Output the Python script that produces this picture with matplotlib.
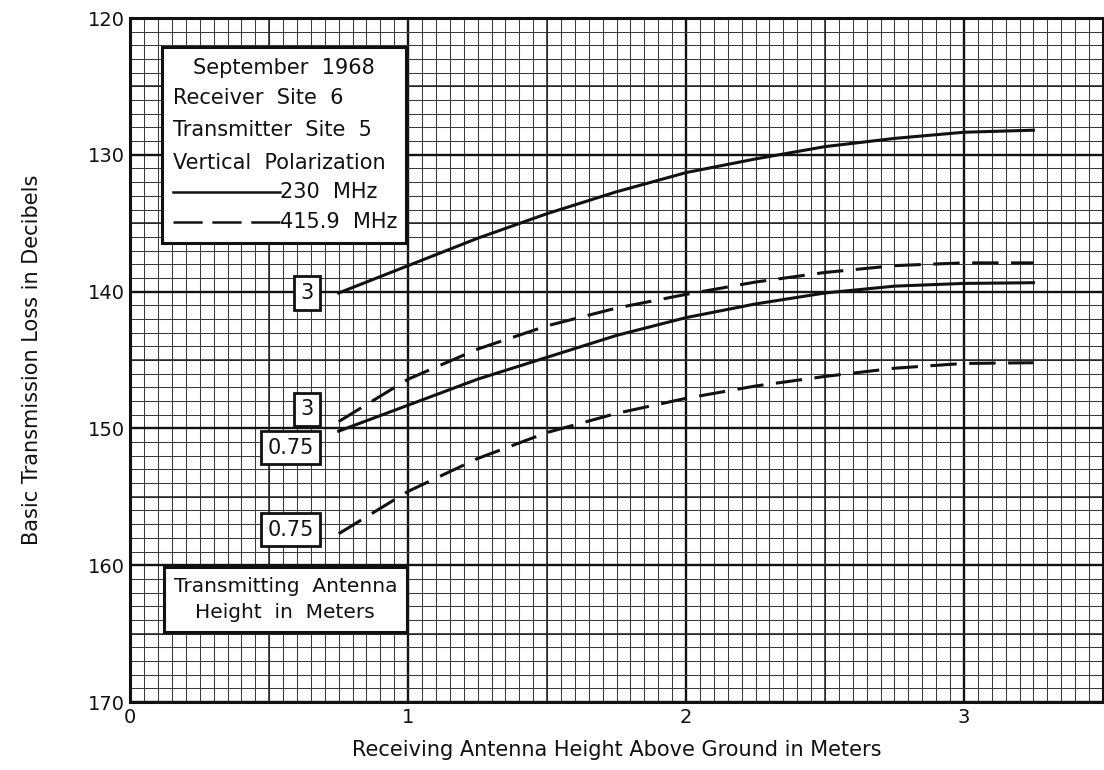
import numpy as np
import matplotlib
matplotlib.use("Agg")
import matplotlib.pyplot as plt
from matplotlib.patches import Rectangle

plt.rcParams['font.family'] = ['DejaVu Sans']
plt.rcParams['lines.scale_dashes'] = False

# Receiving antenna height (m)
height = [0.75, 1.0, 1.25, 1.5, 1.75, 2.0, 2.25, 2.5, 2.75, 3.0, 3.25]

# Basic transmission loss (dB)
loss_230_3 = [140.1, 138.1, 136.1, 134.3, 132.7, 131.3, 130.3, 129.4, 128.8, 128.35, 128.2]
loss_416_3 = [149.5, 146.4, 144.2, 142.5, 141.2, 140.2, 139.3, 138.6, 138.1, 137.9, 137.9]
loss_230_075 = [150.2, 148.3, 146.4, 144.8, 143.2, 141.9, 140.9, 140.1, 139.6, 139.4, 139.35]
loss_416_075 = [157.7, 154.6, 152.2, 150.3, 148.9, 147.8, 146.9, 146.2, 145.6, 145.25, 145.2]

curve_labels = ["3", "3", "0.75", "0.75"]
x_ticks = [0, 1, 2, 3]
y_ticks = [120, 130, 140, 150, 160, 170]

ink = "#111111"
dash = (0, (19, 9))

fig = plt.figure(figsize=(11.04, 7.70), dpi=100)
ax = fig.add_axes([0.118, 0.0883, 0.881, 0.8883])

ax.set_xlim(0, 3.5)
ax.set_ylim(170, 120)

# graph-paper grid
ax.set_xticks(x_ticks)
ax.set_yticks(y_ticks)
ax.set_xticks(np.arange(0, 3.51, 0.05), minor=True)
ax.set_yticks(np.arange(120, 171, 1), minor=True)
ax.grid(which='minor', color="#3a3a3a", lw=0.75)
ax.grid(which='major', color=ink, lw=1.7)
for xv in np.arange(0.5, 3.5, 1.0):
    ax.axvline(xv, color="#222222", lw=1.1, zorder=0.6)
for yv in np.arange(125, 170, 10):
    ax.axhline(yv, color="#222222", lw=1.1, zorder=0.6)
ax.set_axisbelow(True)
for s in ax.spines.values():
    s.set_linewidth(2.2)
    s.set_color(ink)

ax.tick_params(which='both', length=0, labelsize=14, pad=4, colors=ink)
ax.set_xlabel("Receiving Antenna Height Above Ground in Meters", fontsize=15, labelpad=10, color=ink)
ax.set_ylabel("Basic Transmission Loss in Decibels", fontsize=15, labelpad=33, color=ink)

# curves
ax.plot(height, loss_230_3, color=ink, lw=2.2, zorder=3)
ax.plot(height, loss_416_3, color=ink, lw=2.2, ls=dash, zorder=3)
ax.plot(height, loss_230_075, color=ink, lw=2.2, zorder=3)
ax.plot(height, loss_416_075, color=ink, lw=2.2, ls=dash, zorder=3)

# transmitting antenna height tags at curve starts
starts = [loss_230_3[0], loss_416_3[0] - 0.9, loss_230_075[0] + 1.2, loss_416_075[0] - 0.3]
for lab, yv in zip(curve_labels, starts):
    ax.text(height[0] - 0.09, yv, lab, ha='right', va='center', fontsize=15, color=ink, zorder=5,
            bbox=dict(boxstyle='square,pad=0.32', fc='white', ec=ink, lw=2))

# info box
ax.add_patch(Rectangle((0.115, 122.1), 0.878, 14.35, fc='white', ec=ink, lw=2.2, zorder=4))
ax.text(0.554, 123.65, "September  1968", ha='center', va='center', fontsize=15, color=ink, zorder=5)
ax.text(0.155, 125.85, "Receiver  Site  6", ha='left', va='center', fontsize=15, color=ink, zorder=5)
ax.text(0.155, 128.2, "Transmitter  Site  5", ha='left', va='center', fontsize=15, color=ink, zorder=5)
ax.text(0.155, 130.6, "Vertical  Polarization", ha='left', va='center', fontsize=15, color=ink, zorder=5)
ax.plot([0.155, 0.54], [132.7, 132.7], color=ink, lw=1.8, zorder=5)
ax.text(0.54, 132.7, "230  MHz", ha='left', va='center', fontsize=15, color=ink, zorder=5)
ax.plot([0.155, 0.54], [134.9, 134.9], color=ink, lw=1.8, ls=(0, (21, 7)), zorder=5)
ax.text(0.54, 134.9, "415.9  MHz", ha='left', va='center', fontsize=15, color=ink, zorder=5)

# bottom note box
ax.text(0.558, 162.5, "Transmitting  Antenna\nHeight  in  Meters", ha='center', va='center',
        fontsize=14.5, color=ink, linespacing=1.5, zorder=5,
        bbox=dict(boxstyle='square,pad=0.5', fc='white', ec=ink, lw=2.2))

fig.savefig("out.png", dpi=100)
